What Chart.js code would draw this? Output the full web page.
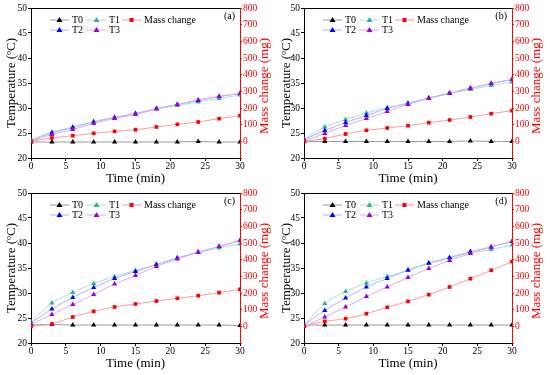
<!DOCTYPE html>
<html>
<head>
<meta charset="utf-8">
<script src="https://cdn.jsdelivr.net/npm/chart.js@4.4.0/dist/chart.umd.min.js"></script>
<style>
  body { margin: 0; background: #fff; }
  #wrap { position: relative; width: 550px; height: 375px; overflow: hidden; }
  .panel { position: absolute; width: 275px; height: 190px; }
</style>
</head>
<body>
<div id="wrap">
  <div class="panel" style="left:0;top:0"><canvas id="chartA" width="275" height="190"></canvas></div>
  <div class="panel" style="left:275px;top:0"><canvas id="chartB" width="275" height="190"></canvas></div>
  <div class="panel" style="left:0;top:185px"><canvas id="chartC" width="275" height="190"></canvas></div>
  <div class="panel" style="left:275px;top:185px"><canvas id="chartD" width="275" height="190"></canvas></div>
</div>
<script>
// time axis (min)
const timeMin = [0, 3, 6, 9, 12, 15, 18, 21, 24, 27, 30];
const timeTicks = [0, 5, 10, 15, 20, 25, 30];
const tempTicks = [20, 25, 30, 35, 40, 45, 50];
const massTicks = [-100, 0, 100, 200, 300, 400, 500, 600, 700, 800];
const seriesNames = ['T0', 'T1', 'T2', 'T3', 'Mass change'];

// (a)
const aT0 = [23.2, 23.2, 23.2, 23.2, 23.2, 23.2, 23.2, 23.2, 23.3, 23.2, 23.2];
const aT1 = [23.6, 25.2, 26.2, 27.3, 28.1, 28.9, 29.8, 30.5, 31.2, 31.9, 32.6];
const aT2 = [23.5, 25.0, 26.1, 27.2, 28.1, 28.9, 29.9, 30.7, 31.5, 32.3, 32.9];
const aT3 = [23.3, 24.7, 25.7, 26.9, 27.9, 28.7, 29.8, 30.7, 31.6, 32.3, 32.9];
const aMass = [0, 20, 34, 48, 60, 70, 86, 102, 116, 136, 154];

// (b)
const bT0 = [23.3, 23.3, 23.3, 23.3, 23.3, 23.3, 23.3, 23.3, 23.4, 23.3, 23.3];
const bT1 = [23.8, 26.2, 27.7, 29.0, 30.1, 31.0, 32.0, 32.9, 33.7, 34.5, 35.2];
const bT2 = [23.7, 25.5, 27.1, 28.5, 29.9, 30.9, 32.0, 33.0, 34.0, 34.9, 35.7];
const bT3 = [23.4, 24.9, 26.5, 27.9, 29.3, 30.7, 31.9, 32.9, 33.9, 34.9, 35.7];
const bMass = [0, 16, 44, 66, 80, 94, 112, 128, 146, 166, 184];

// (c)
const cT0 = [23.6, 23.7, 23.6, 23.6, 23.6, 23.6, 23.6, 23.6, 23.6, 23.6, 23.5];
const cT1 = [24.2, 28.0, 30.1, 31.9, 33.3, 34.5, 35.7, 37.0, 38.1, 39.0, 39.8];
const cT2 = [24.0, 26.8, 29.1, 31.1, 32.9, 34.3, 35.7, 37.0, 38.2, 39.3, 40.5];
const cT3 = [23.7, 25.7, 27.7, 29.7, 31.8, 33.5, 35.3, 36.8, 38.1, 39.3, 40.5];
const cMass = [0, 14, 56, 90, 116, 134, 152, 168, 184, 202, 222];

// (d)
const dT0 = [23.6, 23.6, 23.6, 23.6, 23.6, 23.6, 23.6, 23.6, 23.6, 23.6, 23.6];
const dT1 = [23.5, 27.9, 30.3, 32.0, 33.3, 34.5, 35.9, 37.0, 38.0, 38.7, 39.6];
const dT2 = [23.6, 26.5, 29.0, 31.2, 32.9, 34.6, 36.0, 37.1, 38.3, 39.2, 40.3];
const dT3 = [23.3, 25.2, 27.2, 29.3, 31.2, 33.1, 34.9, 36.5, 37.9, 39.2, 40.3];
const dMass = [0, 30, 46, 76, 114, 150, 190, 236, 286, 336, 388];

const lineCols = ['#9a9a9a', '#a6e3d4', '#b0b0ff', '#dcaaf0', '#ff9a9a'];
const markCols = ['#000000', '#2ab597', '#0000ff', '#9b00d4', '#ff0000'];
const serif = "'Liberation Serif', 'DejaVu Serif', serif";

const extras = {
  id: 'extras',
  afterDraw(chart, args, opts) {
    const ctx = chart.ctx;
    const a = chart.chartArea;
    ctx.save();
    // top frame line
    ctx.strokeStyle = '#000';
    ctx.lineWidth = 1;
    ctx.beginPath();
    ctx.moveTo(a.left, a.top + 0.5);
    ctx.lineTo(a.right, a.top + 0.5);
    ctx.stroke();

    // right axis title, reads bottom to top
    ctx.fillStyle = '#ff0000';
    ctx.font = '13px ' + serif;
    ctx.textAlign = 'center';
    ctx.textBaseline = 'middle';
    ctx.translate(a.right + 25, 86);
    ctx.rotate(-Math.PI / 2);
    ctx.fillText('Mass change (mg)', 0, 0);
    ctx.restore();

    // panel tag
    ctx.save();
    ctx.fillStyle = '#000';
    ctx.font = '10px ' + serif;
    ctx.textAlign = 'right';
    ctx.textBaseline = 'middle';
    ctx.fillText(opts.tag, a.right - 5, a.top + 8);

    // legend inside the plot
    const slots = [[19, 12], [56, 12], [19, 22], [56, 22], [91, 12]];
    chart.data.datasets.forEach((ds, i) => {
      const x = a.left + slots[i][0];
      const y = a.top + slots[i][1];
      ctx.strokeStyle = ds.borderColor;
      ctx.lineWidth = 1;
      ctx.beginPath();
      ctx.moveTo(x, y);
      ctx.lineTo(x + 19, y);
      ctx.stroke();
      ctx.fillStyle = ds.pointBackgroundColor;
      if (ds.pointStyle === 'rect') {
        ctx.fillRect(x + 7.5, y - 2, 4, 4);
      } else {
        ctx.beginPath();
        ctx.moveTo(x + 9.5, y - 3);
        ctx.lineTo(x + 12.5, y + 2);
        ctx.lineTo(x + 6.5, y + 2);
        ctx.closePath();
        ctx.fill();
      }
      ctx.fillStyle = '#000';
      ctx.textAlign = 'left';
      ctx.fillText(ds.label, x + 22, y + 0.5);
    });
    ctx.restore();
  }
};

function makePanel(id, tag, t0, t1, t2, t3, mass, leftW, rightW) {
  const series = [t0, t1, t2, t3, mass];
  const datasets = series.map((vals, i) => ({
    label: seriesNames[i],
    data: vals.map((v, k) => ({ x: timeMin[k], y: v })),
    yAxisID: i === 4 ? 'y2' : 'y',
    borderColor: lineCols[i],
    backgroundColor: markCols[i],
    pointBackgroundColor: markCols[i],
    pointBorderColor: markCols[i],
    pointBorderWidth: 0,
    pointStyle: i === 4 ? 'rect' : 'triangle',
    pointRadius: i === 4 ? 2.6 : 3,
    borderWidth: 1,
    tension: 0.3,
    order: 5 - i
  }));

  new Chart(document.getElementById(id), {
    type: 'line',
    data: { datasets: datasets },
    plugins: [extras],
    options: {
      responsive: false,
      animation: false,
      layout: { padding: { top: 8, left: 0, right: 0, bottom: 0 } },
      plugins: {
        legend: { display: false },
        tooltip: { enabled: false },
        extras: { tag: tag }
      },
      scales: {
        x: {
          type: 'linear',
          min: timeTicks[0],
          max: timeTicks[timeTicks.length - 1],
          afterBuildTicks: s => { s.ticks = timeTicks.map(v => ({ value: v })); },
          afterFit: s => { s.height = 32; },
          border: { color: '#000', width: 1 },
          grid: { drawOnChartArea: false, tickLength: 3, color: '#000' },
          ticks: { color: '#000', padding: 0, maxRotation: 0, font: { family: serif, size: 9.5 } },
          title: { display: true, text: 'Time (min)', color: '#000', padding: { top: 0, bottom: 4 }, font: { family: serif, size: 13 } }
        },
        y: {
          position: 'left',
          min: tempTicks[0],
          max: tempTicks[tempTicks.length - 1],
          afterBuildTicks: s => { s.ticks = tempTicks.map(v => ({ value: v })); },
          afterFit: s => { s.width = leftW; },
          border: { color: '#000', width: 1 },
          grid: { drawOnChartArea: false, tickLength: 3, color: '#000' },
          ticks: { color: '#000', padding: 1, font: { family: serif, size: 9.5 } },
          title: { display: true, text: 'Temperature (ºC)', color: '#000', padding: { top: 4, bottom: 0 }, font: { family: serif, size: 13 } }
        },
        y2: {
          position: 'right',
          min: massTicks[0],
          max: massTicks[massTicks.length - 1],
          afterBuildTicks: s => { s.ticks = massTicks.map(v => ({ value: v })); },
          afterFit: s => { s.width = rightW; },
          border: { color: '#ff0000', width: 1 },
          grid: { drawOnChartArea: false, tickLength: 2, color: '#ff0000' },
          ticks: {
            color: '#ff0000', padding: 1, font: { family: serif, size: 9.5 },
            callback: v => (v < 0 ? '' : v)
          }
        }
      }
    }
  });
}

makePanel('chartA', '(a)', aT0, aT1, aT2, aT3, aMass, 31, 35);
makePanel('chartB', '(b)', bT0, bT1, bT2, bT3, bMass, 29, 38);
makePanel('chartC', '(c)', cT0, cT1, cT2, cT3, cMass, 31, 35);
makePanel('chartD', '(d)', dT0, dT1, dT2, dT3, dMass, 29, 38);
</script>
</body>
</html>
